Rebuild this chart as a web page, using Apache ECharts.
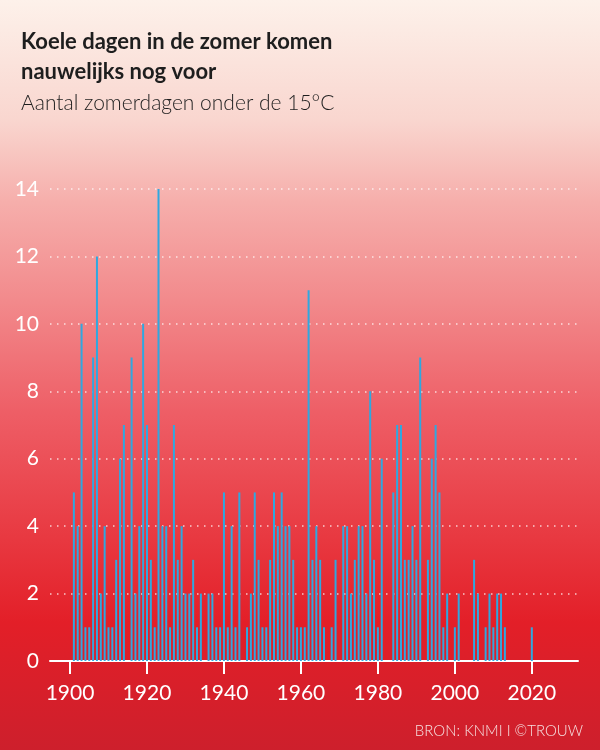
<!DOCTYPE html>
<html>
<head>
<meta charset="utf-8">
<script src="https://cdn.jsdelivr.net/npm/echarts@6/dist/echarts.min.js"></script>
<style>
  html, body { margin: 0; padding: 0; }
  #main { width: 600px; height: 750px; }
</style>
</head>
<body>
<div id="main"></div>
<script>
  var years = [
    1901, 1902, 1903, 1904, 1905, 1906, 1907, 1908, 1909, 1910,
    1911, 1912, 1913, 1914, 1915, 1916, 1917, 1918, 1919, 1920,
    1921, 1922, 1923, 1924, 1925, 1926, 1927, 1928, 1929, 1930,
    1931, 1932, 1933, 1934, 1935, 1936, 1937, 1938, 1939, 1940,
    1941, 1942, 1943, 1944, 1945, 1946, 1947, 1948, 1949, 1950,
    1951, 1952, 1953, 1954, 1955, 1956, 1957, 1958, 1959, 1960,
    1961, 1962, 1963, 1964, 1965, 1966, 1967, 1968, 1969, 1970,
    1971, 1972, 1973, 1974, 1975, 1976, 1977, 1978, 1979, 1980,
    1981, 1982, 1983, 1984, 1985, 1986, 1987, 1988, 1989, 1990,
    1991, 1992, 1993, 1994, 1995, 1996, 1997, 1998, 1999, 2000,
    2001, 2002, 2003, 2004, 2005, 2006, 2007, 2008, 2009, 2010,
    2011, 2012, 2013, 2014, 2015, 2016, 2017, 2018, 2019, 2020
  ]
  var days = [
    5, 4, 10, 1, 1, 9, 12, 2, 4, 1,
    1, 3, 6, 7, 0, 9, 2, 4, 10, 7,
    3, 1, 14, 4, 4, 1, 7, 3, 4, 2,
    2, 3, 1, 2, 0, 2, 2, 1, 1, 5,
    1, 4, 1, 5, 0, 1, 2, 5, 3, 1,
    1, 3, 5, 4, 5, 4, 4, 3, 1, 1,
    1, 11, 3, 4, 3, 1, 0, 1, 3, 0,
    4, 4, 2, 3, 4, 4, 2, 8, 3, 1,
    6, 0, 0, 5, 7, 7, 3, 3, 4, 3,
    9, 0, 3, 6, 7, 5, 1, 2, 0, 1,
    2, 0, 0, 0, 3, 2, 0, 1, 2, 1,
    2, 2, 1, 0, 0, 0, 0, 0, 0, 1
  ]
  var xTicks = [1900, 1920, 1940, 1960, 1980, 2000, 2020]

  var myChart = echarts.init(document.getElementById('main'))

  var seriesData = years.map(function (y, i) {
    return [y, days[i]]
  })

  var option = {
    backgroundColor: {
      type: 'linear', x: 0, y: 0, x2: 0, y2: 1,
      colorStops: [
        { offset: 0, color: '#fdf1ea' },
        { offset: 0.16, color: '#f9d6cf' },
        { offset: 0.27, color: '#f6aeab' },
        { offset: 0.4, color: '#f28a8c' },
        { offset: 0.55, color: '#ee5e66' },
        { offset: 0.72, color: '#e83840' },
        { offset: 0.83, color: '#e31f28' },
        { offset: 1, color: '#cd1f2c' },
      ],
    },
    textStyle: { fontFamily: 'Lato' },
    title: {
      text: 'Koele dagen in de zomer komen\nnauwelijks nog voor',
      subtext: 'Aantal zomerdagen onder de 15\u00b0C',
      left: 16,
      top: 22,
      itemGap: 3,
      textStyle: {
        fontFamily: 'Lato',
        fontSize: 22,
        fontWeight: 'bold',
        color: '#1e1e1e',
        lineHeight: 30,
      },
      subtextStyle: {
        fontFamily: 'Lato',
        fontSize: 21,
        fontWeight: 300,
        color: '#1e1e1e',
        lineHeight: 26,
      },
    },
    graphic: [
      {
        type: 'text',
        right: 17,
        top: 724,
        style: {
          text: 'BRON: KNMI I \u00a9TROUW',
          fill: '#f6e0e0',
          font: '300 15px Lato',
        },
      },
    ],
    grid: {
      left: 50,
      right: 22,
      top: 189,
      bottom: 89,
    },
    xAxis: {
      type: 'value',
      min: 1894.8,
      max: 2032,
      splitLine: { show: false },
      axisLine: { show: true, lineStyle: { color: '#ffffff', width: 2 } },
      axisTick: {
        show: true,
        customValues: xTicks,
        length: 13,
        lineStyle: { color: '#ffffff', width: 2 },
      },
      axisLabel: {
        customValues: xTicks,
        color: '#ffffff',
        fontSize: 21,
        fontFamily: 'Lato',
        margin: 22,
        formatter: function (v) { return String(v) },
      },
    },
    yAxis: {
      type: 'value',
      min: 0,
      max: 14,
      interval: 2,
      axisLine: { show: false },
      axisTick: { show: false },
      axisLabel: {
        color: '#ffffff',
        fontSize: 21,
        fontFamily: 'Lato',
        margin: 11,
      },
      splitLine: {
        show: true,
        lineStyle: {
          color: 'rgba(255,255,255,0.75)',
          width: 1.5,
          type: [1.5, 5.5],
        },
      },
    },
    series: [
      {
        name: 'Zomerdagen onder 15\u00b0C',
        type: 'bar',
        barWidth: 2,
        itemStyle: { color: '#2fa8e0' },
        data: seriesData,
      },
    ],
  }

  myChart.setOption(option)
</script>
</body>
</html>
